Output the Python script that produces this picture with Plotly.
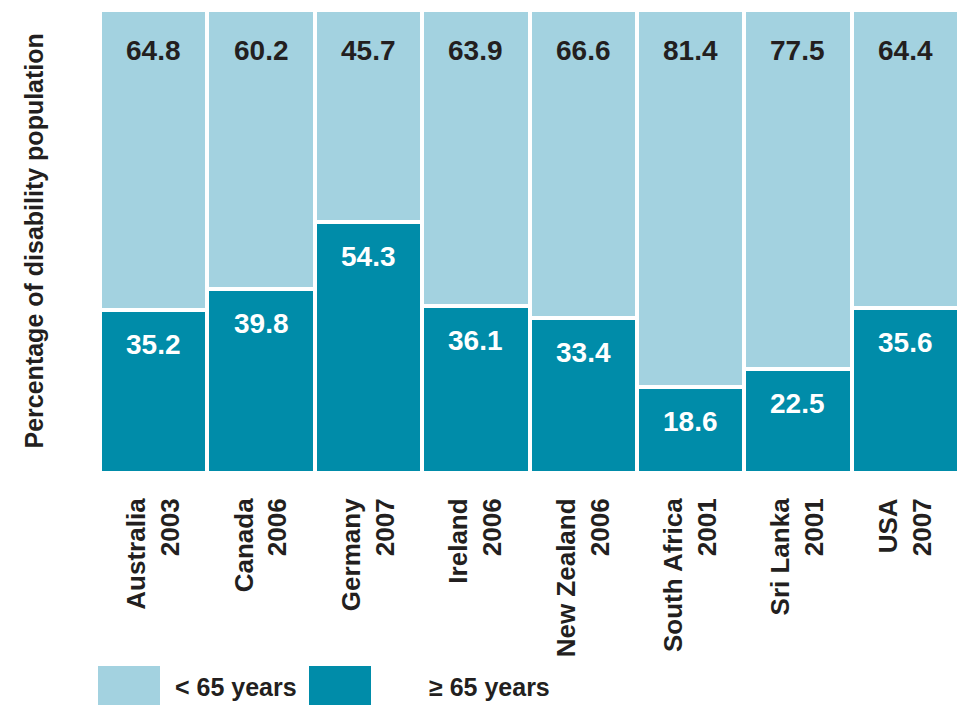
import plotly.graph_objects as go

# Share of the disability population by age group, per country and survey year
countries = ["Australia<br>2003", "Canada<br>2006", "Germany<br>2007", "Ireland<br>2006",
             "New Zealand<br>2006", "South Africa<br>2001", "Sri Lanka<br>2001", "USA<br>2007"]
under_65 = [64.8, 60.2, 45.7, 63.9, 66.6, 81.4, 77.5, 64.4]
over_65 = [35.2, 39.8, 54.3, 36.1, 33.4, 18.6, 22.5, 35.6]

LIGHT = "#a3d2e0"
DARK = "#008ca9"
INK = "#231f20"
FAMILY = "Liberation Sans, Arial, sans-serif"


def font(size, color=INK, weight="bold"):
    return dict(family=FAMILY, size=size, color=color, weight=weight)


W, H = 959, 705
ML, MR, MT, MB = 100, 0, 10, 232
PW, PH = W - ML - MR, H - MT - MB

fig = go.Figure()
fig.add_trace(go.Bar(x=countries, y=over_65, name="≥ 65 years",
                     marker=dict(color=DARK, line=dict(color="white", width=4))))
fig.add_trace(go.Bar(x=countries, y=under_65, name="< 65 years", base=over_65,
                     marker=dict(color=LIGHT, line=dict(color="white", width=4))))

annotations = []
for c, lo, hi in zip(countries, over_65, under_65):
    total = lo + hi
    annotations.append(dict(x=c, y=total, xref="x", yref="y", text=f"{hi:.1f}",
                            showarrow=False, yanchor="top", yshift=-23,
                            font=font(28)))
    annotations.append(dict(x=c, y=lo, xref="x", yref="y", text=f"{lo:.1f}",
                            showarrow=False, yanchor="top", yshift=-17,
                            font=font(28, "white")))


def px_x(p):
    return (p - ML) / PW


def px_y(p):
    return (H - MB - p) / PH


annotations.append(dict(x=px_x(33), y=0.5, xref="paper", yref="paper",
                        text="Percentage of disability population", textangle=-90,
                        showarrow=False, xanchor="center", yanchor="middle",
                        font=font(25)))

# legend: two swatches with their labels beneath the chart
shapes = []
legend_items = [(98, 160, LIGHT, 173, "< 65 years"), (309, 371, DARK, 427, "≥ 65 years")]
for x0, x1, col, tx, label in legend_items:
    shapes.append(dict(type="rect", xref="paper", yref="paper",
                       x0=px_x(x0), x1=px_x(x1), y0=px_y(705), y1=px_y(666),
                       fillcolor=col, line=dict(width=0)))
    annotations.append(dict(x=px_x(tx), y=px_y(687), xref="paper", yref="paper",
                            text=label, showarrow=False, xanchor="left", yanchor="middle",
                            font=font(25)))

fig.update_layout(
    width=W, height=H,
    margin=dict(l=ML, r=MR, t=MT, b=MB),
    barmode="stack", bargap=0,
    plot_bgcolor="white", paper_bgcolor="white",
    showlegend=False,
    annotations=annotations, shapes=shapes,
    font=font(26),
)
fig.update_xaxes(tickangle=-90, showgrid=False, showline=False, zeroline=False,
                 ticks="outside", ticklen=14, tickcolor="rgba(0,0,0,0)",
                 tickfont=font(26))
fig.update_yaxes(range=[0, 100], showgrid=False, showline=False, zeroline=False,
                 showticklabels=False)

fig.write_html("out.html")
